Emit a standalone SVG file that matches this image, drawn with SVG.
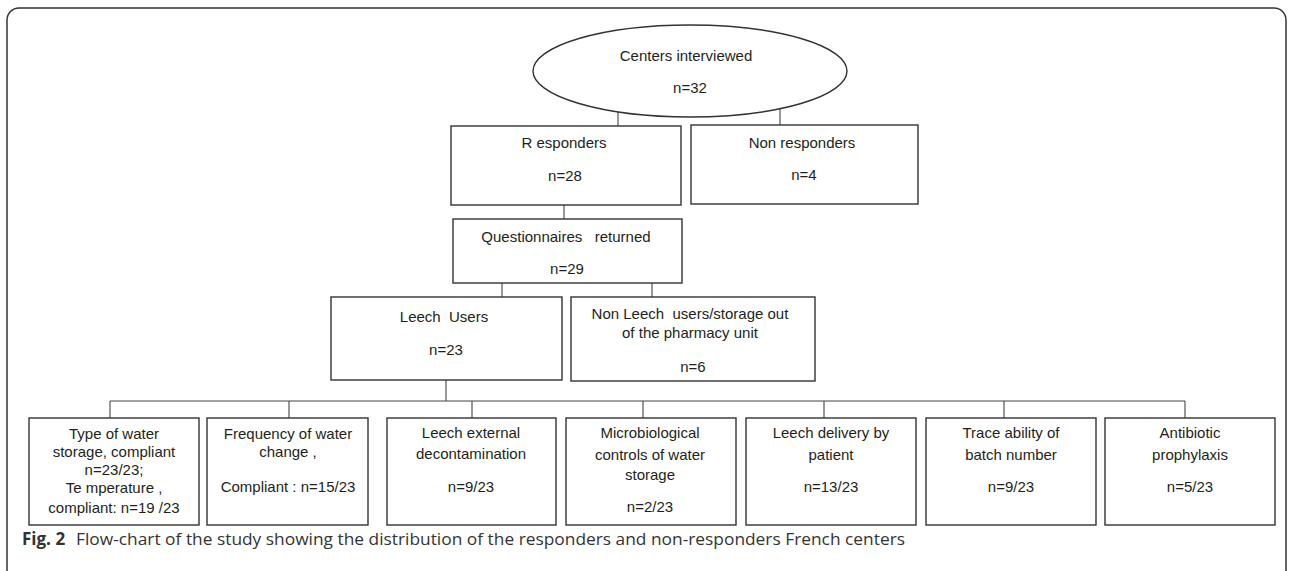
<svg xmlns="http://www.w3.org/2000/svg" width="1292" height="571" viewBox="0 0 1292 571">
<style>
  .box { fill: #ffffff; stroke: #333333; stroke-width: 1.4; }
  .conn { fill: none; stroke: #444444; stroke-width: 1.1; }
  .t { font-family: "Liberation Sans", Arial, sans-serif; font-size: 15px; fill: #231f20; text-anchor: middle; }
  .cap { font-family: "Open Sans", "Liberation Sans", sans-serif; font-size: 17px; fill: #333333; }
  .frame { fill: none; stroke: #333333; stroke-width: 1.5; }
</style>
<rect width="1292" height="571" fill="#ffffff"/>
<rect class="frame" x="7" y="8" width="1279" height="578" rx="12" ry="12"/>

<g id="connectors">
  <line class="conn" x1="618" y1="111" x2="618" y2="126"/>
  <line class="conn" x1="780" y1="108" x2="780" y2="125"/>
  <line class="conn" x1="564" y1="205" x2="564" y2="219"/>
  <line class="conn" x1="502" y1="283" x2="502" y2="297"/>
  <line class="conn" x1="652" y1="283" x2="652" y2="297"/>
  <line class="conn" x1="446" y1="380" x2="446" y2="401"/>
  <line class="conn" x1="110" y1="401" x2="1185" y2="401"/>
  <line class="conn" x1="110" y1="401" x2="110" y2="418"/>
  <line class="conn" x1="289" y1="401" x2="289" y2="418"/>
  <line class="conn" x1="472" y1="401" x2="472" y2="418"/>
  <line class="conn" x1="643" y1="401" x2="643" y2="418"/>
  <line class="conn" x1="824" y1="401" x2="824" y2="418"/>
  <line class="conn" x1="1004" y1="401" x2="1004" y2="418"/>
  <line class="conn" x1="1185" y1="401" x2="1185" y2="418"/>
</g>

<g id="centers">
  <ellipse class="box" cx="690" cy="71" rx="157" ry="46"/>
  <text class="t" x="686" y="61">Centers interviewed</text>
  <text class="t" x="690" y="93">n=32</text>
</g>

<g id="responders">
  <rect class="box" x="451" y="126" width="230" height="79"/>
  <text class="t" x="564" y="148" xml:space="preserve">R esponders</text>
  <text class="t" x="565" y="181">n=28</text>
</g>

<g id="nonresponders">
  <rect class="box" x="691" y="125" width="227" height="79"/>
  <text class="t" x="802" y="148">Non responders</text>
  <text class="t" x="804" y="180">n=4</text>
</g>

<g id="questionnaires">
  <rect class="box" x="453" y="219" width="229" height="64"/>
  <text class="t" x="566" y="242" xml:space="preserve">Questionnaires   returned</text>
  <text class="t" x="567" y="274">n=29</text>
</g>

<g id="leechusers">
  <rect class="box" x="331" y="297" width="231" height="83"/>
  <text class="t" x="444" y="322" xml:space="preserve">Leech  Users</text>
  <text class="t" x="446" y="355">n=23</text>
</g>

<g id="nonleech">
  <rect class="box" x="571" y="297" width="244" height="84"/>
  <text class="t" x="690" y="319" xml:space="preserve">Non Leech  users/storage out</text>
  <text class="t" x="690" y="338">of the pharmacy unit</text>
  <text class="t" x="693" y="372">n=6</text>
</g>

<g id="water-storage">
  <rect class="box" x="29" y="418" width="170" height="107"/>
  <text class="t" x="114" y="439">Type of water</text>
  <text class="t" x="114" y="457">storage, compliant</text>
  <text class="t" x="114" y="475">n=23/23;</text>
  <text class="t" x="114" y="493">Te mperature ,</text>
  <text class="t" x="114" y="513">compliant: n=19 /23</text>
</g>

<g id="water-change">
  <rect class="box" x="207" y="418" width="161" height="107"/>
  <text class="t" x="288" y="439">Frequency of water</text>
  <text class="t" x="288" y="457">change ,</text>
  <text class="t" x="288" y="492">Compliant : n=15/23</text>
</g>

<g id="decontamination">
  <rect class="box" x="387" y="418" width="169" height="107"/>
  <text class="t" x="471" y="438">Leech external</text>
  <text class="t" x="471" y="459">decontamination</text>
  <text class="t" x="471" y="492">n=9/23</text>
</g>

<g id="microbiological">
  <rect class="box" x="566" y="418" width="170" height="107"/>
  <text class="t" x="650" y="438">Microbiological</text>
  <text class="t" x="650" y="460">controls of water</text>
  <text class="t" x="650" y="480">storage</text>
  <text class="t" x="650" y="512">n=2/23</text>
</g>

<g id="delivery">
  <rect class="box" x="746" y="418" width="170" height="107"/>
  <text class="t" x="831" y="438">Leech delivery by</text>
  <text class="t" x="831" y="460">patient</text>
  <text class="t" x="831" y="492">n=13/23</text>
</g>

<g id="traceability">
  <rect class="box" x="926" y="418" width="170" height="107"/>
  <text class="t" x="1011" y="438">Trace ability of</text>
  <text class="t" x="1011" y="460">batch number</text>
  <text class="t" x="1011" y="492">n=9/23</text>
</g>

<g id="antibiotic">
  <rect class="box" x="1105" y="418" width="170" height="107"/>
  <text class="t" x="1190" y="438">Antibiotic</text>
  <text class="t" x="1190" y="460">prophylaxis</text>
  <text class="t" x="1190" y="492">n=5/23</text>
</g>

<g id="caption">
  <text class="cap" x="22" y="545" font-size="18" font-weight="bold" fill="#231f20">Fig. 2</text>
  <text class="cap" x="76" y="545" textLength="829" lengthAdjust="spacingAndGlyphs">Flow-chart of the study showing the distribution of the responders and non-responders French centers</text>
</g>
</svg>
